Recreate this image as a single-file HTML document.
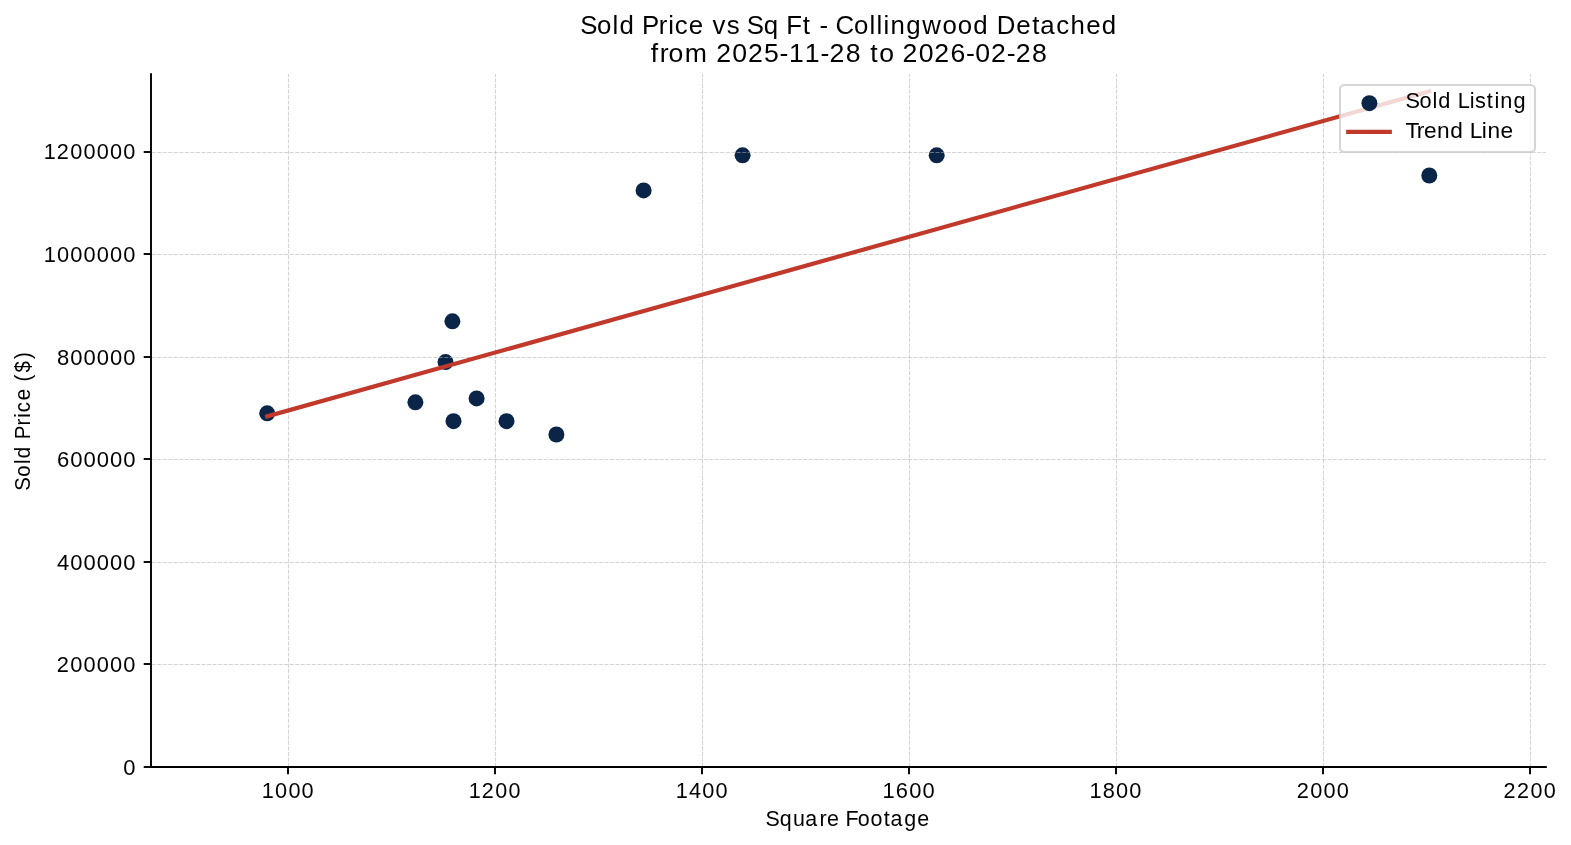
<!DOCTYPE html>
<html><head><meta charset="utf-8"><title>Sold Price vs Sq Ft</title>
<style>html,body{margin:0;padding:0;background:#fff;width:1571px;height:845px;overflow:hidden;}svg{display:block;will-change:transform;}text{font-family:"Liberation Sans",sans-serif;fill:#000;}</style></head><body>
<svg width="1571" height="845" viewBox="0 0 1571 845">
<rect x="0" y="0" width="1571" height="845" fill="#ffffff"/>
<g fill="#0b2548">
<circle cx="267.2" cy="413.3" r="8.0"/>
<circle cx="415.4" cy="402.3" r="8.0"/>
<circle cx="445.5" cy="362.1" r="8.0"/>
<circle cx="452.4" cy="321.3" r="8.0"/>
<circle cx="453.5" cy="421.2" r="8.0"/>
<circle cx="476.6" cy="398.4" r="8.0"/>
<circle cx="506.5" cy="421.2" r="8.0"/>
<circle cx="556.4" cy="434.5" r="8.0"/>
<circle cx="643.6" cy="190.4" r="8.0"/>
<circle cx="742.6" cy="155.3" r="8.0"/>
<circle cx="936.7" cy="155.3" r="8.0"/>
<circle cx="1429.3" cy="175.5" r="8.0"/>
</g>
<g stroke="#b0b0b0" stroke-opacity="0.55" stroke-width="1.04" stroke-dasharray="4.05 1.47" fill="none">
<path d="M288.50 767.0 L288.50 74.0"/>
<path d="M495.50 767.0 L495.50 74.0"/>
<path d="M702.50 767.0 L702.50 74.0"/>
<path d="M909.50 767.0 L909.50 74.0"/>
<path d="M1116.50 767.0 L1116.50 74.0"/>
<path d="M1323.50 767.0 L1323.50 74.0"/>
<path d="M1530.50 767.0 L1530.50 74.0"/>
<path d="M151.0 664.50 L1546.0 664.50" stroke-dashoffset="-0.7"/>
<path d="M151.0 562.50 L1546.0 562.50" stroke-dashoffset="-0.7"/>
<path d="M151.0 459.50 L1546.0 459.50" stroke-dashoffset="-0.7"/>
<path d="M151.0 357.50 L1546.0 357.50" stroke-dashoffset="-0.7"/>
<path d="M151.0 254.50 L1546.0 254.50" stroke-dashoffset="-0.7"/>
<path d="M151.0 152.50 L1546.0 152.50" stroke-dashoffset="-0.7"/>
</g>
<path d="M267.2 416.36 L1429.3 91.33" stroke="#c0392b" stroke-width="4.17" stroke-linecap="square" fill="none"/>
<path d="M151.0 73.17 L151.0 767.0 L1546.83 767.0" stroke="#000" stroke-width="1.9" stroke-linecap="butt" stroke-linejoin="miter" fill="none"/>
<g stroke="#000" stroke-width="1.9" fill="none">
<path d="M288.00 767.0 L288.00 774.3"/>
<path d="M495.00 767.0 L495.00 774.3"/>
<path d="M702.00 767.0 L702.00 774.3"/>
<path d="M909.00 767.0 L909.00 774.3"/>
<path d="M1116.00 767.0 L1116.00 774.3"/>
<path d="M1323.00 767.0 L1323.00 774.3"/>
<path d="M1530.00 767.0 L1530.00 774.3"/>
<path d="M151.0 767.00 L143.7 767.00"/>
<path d="M151.0 664.00 L143.7 664.00"/>
<path d="M151.0 562.00 L143.7 562.00"/>
<path d="M151.0 459.00 L143.7 459.00"/>
<path d="M151.0 357.00 L143.7 357.00"/>
<path d="M151.0 254.00 L143.7 254.00"/>
<path d="M151.0 152.00 L143.7 152.00"/>
</g>
<text transform="translate(0 797.60) scale(0.9845 1)" x="265.88 279.45 292.92 306.38" y="0" font-size="22.08">1000</text>
<text transform="translate(0 797.60) scale(0.9755 1)" x="480.53 493.94 507.81 521.40" y="0" font-size="22.08">1200</text>
<text transform="translate(0 797.60) scale(0.9847 1)" x="686.14 699.71 713.17 726.63" y="0" font-size="22.08">1400</text>
<text transform="translate(0 797.60) scale(0.9931 1)" x="888.64 902.10 915.45 928.80" y="0" font-size="22.08">1600</text>
<text transform="translate(0 797.60) scale(0.9872 1)" x="1103.63 1117.17 1130.59 1144.02" y="0" font-size="22.08">1800</text>
<text transform="translate(0 797.60) scale(0.9862 1)" x="1314.82 1328.54 1341.98 1355.42" y="0" font-size="22.08">2000</text>
<text transform="translate(0 797.60) scale(0.9773 1)" x="1538.55 1552.11 1565.95 1579.51" y="0" font-size="22.08">2200</text>
<text transform="translate(0 774.55) scale(0.9948 1)" x="123.90" y="0" font-size="22.08">0</text>
<text transform="translate(0 672.04) scale(0.9891 1)" x="57.37 71.05 84.45 97.86 111.26 124.66" y="0" font-size="22.08">200000</text>
<text transform="translate(0 569.53) scale(0.9948 1)" x="57.28 70.61 83.93 97.25 110.58 123.90" y="0" font-size="22.08">400000</text>
<text transform="translate(0 467.02) scale(1.0005 1)" x="56.93 70.17 83.42 96.67 109.92 123.17" y="0" font-size="22.08">600000</text>
<text transform="translate(0 364.51) scale(0.9966 1)" x="57.17 70.47 83.77 97.07 110.37 123.67" y="0" font-size="22.08">800000</text>
<text transform="translate(0 262.00) scale(0.9890 1)" x="44.14 57.66 71.06 84.46 97.86 111.27 124.67" y="0" font-size="22.08">1000000</text>
<text transform="translate(0 159.49) scale(0.9840 1)" x="44.40 57.70 71.45 84.93 98.40 111.87 125.34" y="0" font-size="22.08">1200000</text>
<text transform="translate(0 825.60) scale(0.9707 1)" x="788.69 803.28 816.99 829.62 844.29 851.99 864.68 870.90 883.52 896.65 910.43 917.40 931.45 945.04" y="0" font-size="22.08">Square Footage</text>
<text transform="translate(29.80 490.70) rotate(-90) scale(0.9260 1)" x="-0.10 15.03 28.72 35.15 48.58 55.55 70.32 78.83 84.81 97.60 110.61 117.92 127.62 142.12" y="0" font-size="22.08">Sold Price ($)</text>
<text transform="translate(0 33.70) scale(0.9746 1)" x="595.34 612.67 628.50 635.62 651.29 658.77 675.83 685.64 692.26 706.81 722.02 731.14 745.59 758.72 766.32 783.77 799.44 806.84 823.63 832.41 840.78 849.82 857.22 876.37 892.20 899.33 906.47 913.78 929.83 946.41 966.97 982.67 998.49 1014.16 1022.67 1042.64 1059.13 1067.44 1083.75 1098.51 1114.56 1130.38" y="0" font-size="26.49">Sold Price vs Sq Ft - Collingwood Detached</text>
<text transform="translate(0 61.60) scale(1.0059 1)" x="647.00 655.91 664.66 680.76 703.83 711.93 728.07 743.56 759.60 775.05 784.34 800.15 815.64 824.74 840.88 856.16 865.19 874.05 889.01 897.12 913.26 928.74 944.88 960.23 969.66 985.14 1000.82 1009.92 1026.06" y="0" font-size="26.49">from 2025-11-28 to 2026-02-28</text>
<rect x="1340" y="85" width="195" height="67" rx="4.2" ry="4.2" fill="#ffffff" fill-opacity="0.8" stroke="#cccccc" stroke-opacity="0.8" stroke-width="2.08"/>
<circle cx="1369.4" cy="103.2" r="8.0" fill="#0b2548"/>
<path d="M1348.2 131.9 L1389.8 131.9" stroke="#c0392b" stroke-width="4.17" stroke-linecap="square" fill="none"/>
<text transform="translate(0 108.40) scale(0.9851 1)" x="1426.67 1440.97 1454.05 1459.89 1472.87 1479.79 1491.87 1497.39 1509.29 1517.06 1523.05 1536.29" y="0" font-size="22.08">Sold Listing</text>
<text transform="translate(0 138.45) scale(1.0272 1)" x="1368.38 1379.20 1386.37 1399.04 1411.74 1424.43 1430.79 1442.55 1448.14 1460.81" y="0" font-size="22.08">Trend Line</text>
</svg></body></html>
